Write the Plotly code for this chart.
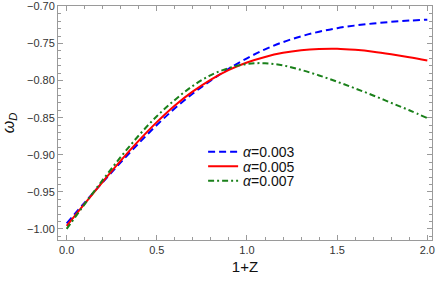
import plotly.graph_objects as go

x_vals = [0.0, 0.1, 0.2, 0.3, 0.4, 0.5, 0.6, 0.7, 0.8, 0.9, 1.0,
          1.1, 1.2, 1.3, 1.4, 1.5, 1.6, 1.7, 1.8, 1.9, 2.0]

w_a003 = [-0.9925, -0.9645, -0.9370, -0.9102, -0.8844, -0.8599, -0.8374, -0.8174,
          -0.7996, -0.7838, -0.7698, -0.7578, -0.7480, -0.7402, -0.7340, -0.7292,
          -0.7256, -0.7229, -0.7207, -0.7190, -0.7178]
w_a005 = [-0.9960, -0.9660, -0.9365, -0.9080, -0.8810, -0.8560, -0.8335, -0.8145,
          -0.7985, -0.7855, -0.7755, -0.7680, -0.7625, -0.7590, -0.7572, -0.7569,
          -0.7584, -0.7609, -0.7644, -0.7684, -0.7729]
w_a007 = [-1.0000, -0.9665, -0.9340, -0.9030, -0.8740, -0.8480, -0.8260, -0.8070,
          -0.7925, -0.7830, -0.7775, -0.7765, -0.7795, -0.7855, -0.7930, -0.8015,
          -0.8105, -0.8200, -0.8300, -0.8400, -0.8505]

alpha_labels = ["0.003", "0.005", "0.007"]
x_ticks = [0.0, 0.5, 1.0, 1.5, 2.0]
x_tick_labels = ["0.0", "0.5", "1.0", "1.5", "2.0"]
y_ticks = [-1.00, -0.95, -0.90, -0.85, -0.80, -0.75, -0.70]
y_tick_labels = ["\u22121.00", "\u22120.95", "\u22120.90", "\u22120.85", "\u22120.80", "\u22120.75", "\u22120.70"]

styles = [
    dict(color="#0000ff", dash="7px,4px"),
    dict(color="#ff0000", dash="solid"),
    dict(color="#1a801a", dash="6px,3px,2px,3px"),
]
legend_ids = ["legend", "legend2", "legend3"]
legend_y = [0.375, 0.313, 0.251]

fig = go.Figure()
for lab, ys, st, lid in zip(alpha_labels, [w_a003, w_a005, w_a007], styles, legend_ids):
    fig.add_trace(go.Scatter(
        x=x_vals, y=ys, mode="lines", name="<i>\u03b1</i>=" + lab, legend=lid,
        line=dict(color=st["color"], dash=st["dash"], width=2, shape="spline", smoothing=1.0),
    ))

axis_common = dict(
    showline=True, linecolor="#9a9a9a", linewidth=1, mirror="allticks",
    ticks="inside", tickcolor="#9a9a9a", ticklen=5, tickwidth=1,
    showgrid=False, zeroline=False, automargin=False, ticklabeloverflow="allow",
    tickfont=dict(family="Liberation Sans, Arial", size=11, color="#333333"),
)

leg_common = dict(x=0.388, xanchor="left", yanchor="middle", bgcolor="rgba(0,0,0,0)",
                  font=dict(family="Liberation Sans, Arial", size=14, color="#111111"))

fig.update_layout(
    width=436, height=284,
    margin=dict(l=58, r=4, t=6, b=44),
    paper_bgcolor="white", plot_bgcolor="white",
    showlegend=True,
    legend=dict(y=legend_y[0], **leg_common),
    legend2=dict(y=legend_y[1], **leg_common),
    legend3=dict(y=legend_y[2], **leg_common),
    xaxis=dict(range=[-0.048, 2.026], tickvals=x_ticks, ticktext=x_tick_labels,
               minor=dict(dtick=0.1, tick0=0, ticks="inside", ticklen=3, tickcolor="#9a9a9a"),
               title=dict(text="1+Z", font=dict(family="Liberation Sans, Arial", size=15, color="#111111"), standoff=6),
               **axis_common),
    yaxis=dict(range=[-1.015, -0.6993], tickvals=y_ticks, ticktext=y_tick_labels,
               minor=dict(dtick=0.01, tick0=-1.0, ticks="inside", ticklen=3, tickcolor="#9a9a9a"),
               title=dict(text="<i>\u03c9</i><sub><i>D</i></sub>", font=dict(family="Liberation Sans, Arial", size=16, color="#111111"), standoff=8),
               **axis_common),
)

fig.write_html("out.html", config={"displayModeBar": False, "staticPlot": True},
               post_script="document.body.style.margin='0';document.body.style.overflow='hidden';")
